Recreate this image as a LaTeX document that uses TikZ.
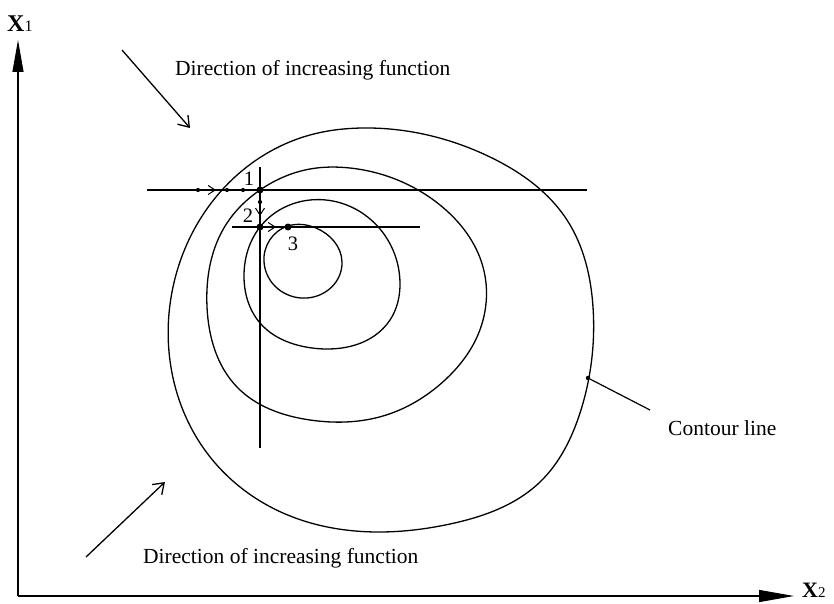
\documentclass[tikz,border=0pt]{standalone}
\usepackage{fontspec}
\setmainfont{Liberation Serif}
\usetikzlibrary{arrows.meta,hobby}
\tikzset{
  contour/.style={line width=1.3pt, use Hobby shortcut, closed=true},
  guide/.style={line width=1.1pt},
  axisline/.style={line width=1.2pt},
  bigdot/.style={circle, fill=black, inner sep=0pt, minimum size=7pt},
  smalldot/.style={circle, fill=black, inner sep=0pt, minimum size=4.2pt},
  barb/.style={line width=1pt, -{Straight Barb[length=7pt,width=9pt]}},
  dirarrow/.style={line width=1.3pt, -{Straight Barb[length=10pt,width=14pt]}},
  lbl/.style={font=\fontsize{21.5}{24}\selectfont, inner sep=0pt},
  numlbl/.style={font=\fontsize{20.5}{22}\selectfont, inner sep=0pt},
}
\begin{document}
\begin{tikzpicture}[x=1pt,y=-1pt]
\useasboundingbox (0,0) rectangle (834,604);
% axes
\coordinate (O) at (18,596);
\coordinate (Ytop) at (18,40);
\coordinate (Xend) at (794,596);
\draw[axisline, -{Triangle[length=32pt,width=11pt]}] (O) -- (Ytop);
\draw[axisline, -{Triangle[length=35pt,width=12pt]}] (O) -- (Xend);
\node[anchor=base west, inner sep=0pt] (xone) at (7,32) {{\fontsize{24}{24}\selectfont\bfseries X}{\fontsize{16}{16}\selectfont 1}};
\node[anchor=base west, inner sep=0pt] (xtwo) at (802,597) {{\fontsize{22}{22}\selectfont\bfseries X}{\fontsize{15}{15}\selectfont 2}};
% contours
\draw[contour] (363,128) .. (490,157) .. (567,220) .. (593,307) .. (580,413) .. (540,482) .. (450,524) .. (380,532) .. (283,513) .. (207,453) .. (172,373) .. (173,287) .. (222,190) .. (310,135);
\draw[contour] (260,190) .. (310,169) .. (350,168) .. (440,205) .. (483,267) .. (477,337) .. (445,380) .. (383,416) .. (310,420) .. (237,387) .. (207,307) .. (227,223);
\draw[contour] (260,227) .. (310,200) .. (365,215) .. (400,283) .. (390,320) .. (312,348) .. (260,323) .. (244,275);
\draw[contour] (288,226) .. (316,228) .. (342,262) .. (307,298) .. (264,262);
% guide lines
\coordinate (h1a) at (147,190);
\coordinate (h1b) at (587,190);
\coordinate (va) at (260,167);
\coordinate (vb) at (260,448);
\coordinate (h2a) at (232,227);
\coordinate (h2b) at (420,227);
\draw[guide] (h1a) -- (h1b);
\draw[guide] (va) -- (vb);
\draw[guide] (h2a) -- (h2b);
% search points
\node[bigdot] (p1) at (260,190) {};
\node[bigdot] (p2) at (260,227) {};
\node[bigdot] (p3) at (288,227) {};
\node[smalldot] (s1) at (198,190) {};
\node[smalldot] (s2) at (227,190) {};
\node[smalldot] (s3) at (243,190) {};
\node[smalldot] (s4) at (260,202) {};
\coordinate (a1) at (216,190);
\coordinate (a2) at (260,216);
\coordinate (a3) at (276,227);
\draw[barb] (s1) -- (a1);
\draw[barb] (s4) -- (a2);
\draw[barb] (p2) -- (a3);
\node[numlbl] (n1) at (249,179) {1};
\node[numlbl] (n2) at (248,216) {2};
\node[numlbl] (n3) at (293,244) {3};
% direction arrows
\coordinate (d1a) at (122,50);
\coordinate (d1b) at (190,128);
\coordinate (d2a) at (86,557);
\coordinate (d2b) at (165,482);
\draw[dirarrow] (d1a) -- (d1b);
\draw[dirarrow] (d2a) -- (d2b);
\node[lbl, anchor=west] (t1) at (175,70) {Direction of increasing function};
\node[lbl, anchor=west] (t2) at (143,558) {Direction of increasing function};
% contour line label
\node[smalldot, minimum size=4.5pt] (cdot) at (588,378) {};
\node[lbl, anchor=west] (t3) at (668,428) {Contour line};
\coordinate (cend) at (650,410);
\draw[line width=1.2pt] (cdot) -- (cend);
\end{tikzpicture}
\end{document}
